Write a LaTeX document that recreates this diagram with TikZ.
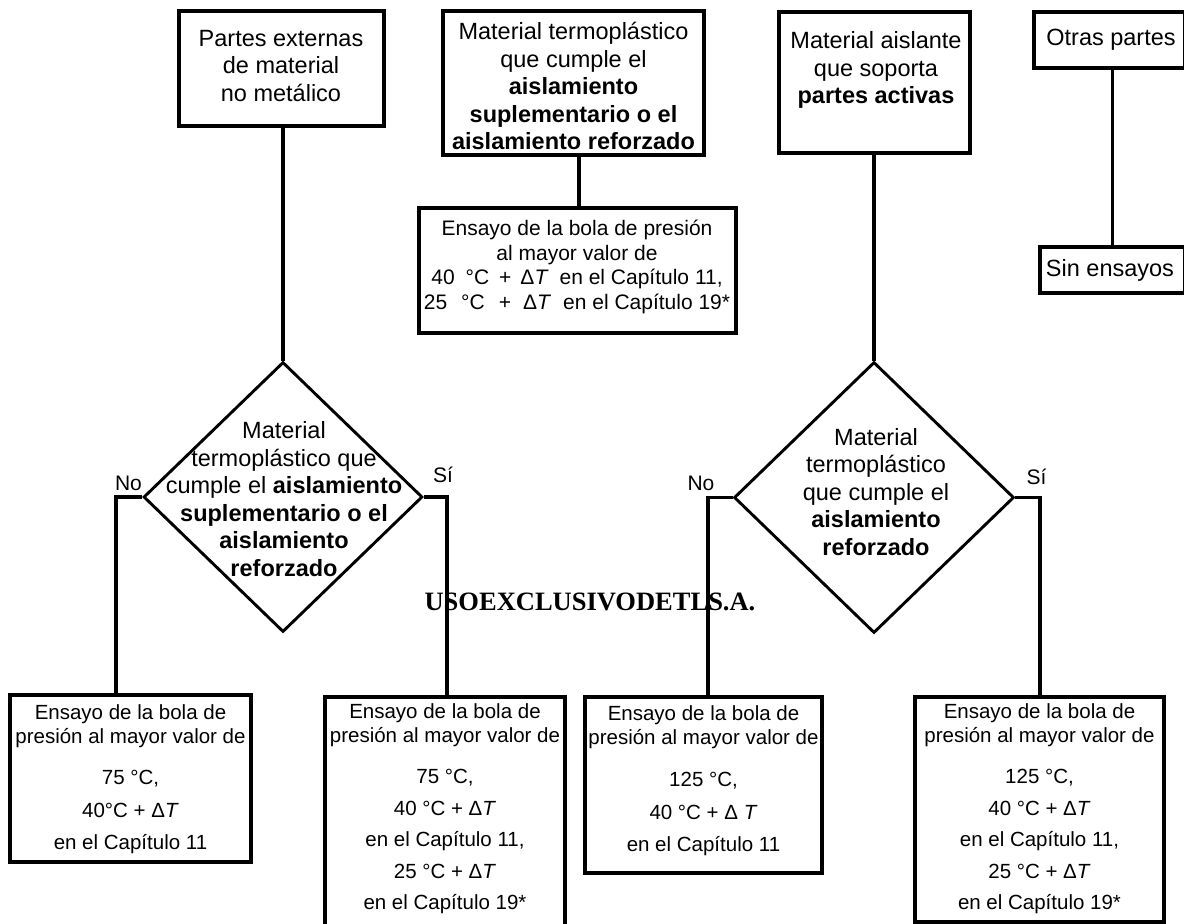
\documentclass[tikz,border=0pt]{standalone}
\usepackage{fontspec}
\setmainfont{Liberation Sans}
\newfontfamily\wmfont{Liberation Serif}
\usetikzlibrary{shapes.geometric}

\begin{document}
\begin{tikzpicture}[x=1pt,y=-1pt,
  box/.style={draw, line width=3.2pt, rectangle, inner sep=0pt},
  decision/.style={draw, line width=2.9pt, shape=diamond, inner sep=0pt},
  link/.style={line width=3.2pt},
  bigtxt/.style={align=center, inner sep=0pt, font=\fontsize{23.5}{27.5}\selectfont},
  smalltxt/.style={align=center, inner sep=0pt, font=\fontsize{20.5}{24}\selectfont},
  midtxt/.style={align=center, inner sep=0pt, font=\fontsize{21}{24.5}\selectfont},
  answer/.style={inner sep=0pt, font=\fontsize{21}{24}\selectfont},
  stamp/.style={inner sep=0pt, font=\wmfont\bfseries\fontsize{26.5}{28}\selectfont}]

\useasboundingbox (0,0) rectangle (1184,924);
\fill[white] (0,0) rectangle (1184,924);

% top row of boxes
\node[box, minimum width=205, minimum height=115] (b1) at (281.5,68.5) {};
\node[box, minimum width=261, minimum height=144] (b2) at (573.5,83) {};
\node[box, minimum width=317, minimum height=125] (b3) at (577.5,270.5) {};
\node[box, minimum width=191, minimum height=141] (b4) at (874.5,82.5) {};
\node[box, minimum width=151, minimum height=56] (b5) at (1109.5,40) {};
\node[box, minimum width=145, minimum height=46] (b6) at (1112.5,270) {};

\node[bigtxt] (b1t) at (281,66) {Partes externas\\de material\\no metálico};
\node[bigtxt] (b2t) at (573.5,86) {Material termoplástico\\que cumple el\\\textbf{aislamiento}\\\textbf{suplementario o el}\\\textbf{aislamiento reforzado}};
\node[midtxt] (b3t) at (577,267) {Ensayo de la bola de presión\\al mayor valor de\\40\hspace{11pt}°C\hspace{10pt}+\hspace{9pt}Δ\textit{T}\hspace{11pt}en el Capítulo 11,\\25\hspace{14pt}°C\hspace{14pt}+\hspace{12pt}Δ\textit{T}\hspace{12pt}en el Capítulo 19*};
\node[bigtxt] (b4t) at (876,70) {Material aislante\\que soporta\\\textbf{partes activas}};
\node[bigtxt] (b5t) at (1111,40) {Otras partes};
\node[bigtxt] (b6t) at (1110,270) {Sin ensayos};

% decisions
\node[decision, minimum width=279, minimum height=270] (d1) at (283,497) {};
\node[decision, minimum width=280, minimum height=271] (d2) at (874,497.5) {};

\node[bigtxt] (d1t) at (284,499) {Material\\termoplástico que\\cumple el \textbf{aislamiento}\\\textbf{suplementario o el}\\\textbf{aislamiento}\\\textbf{reforzado}};
\node[bigtxt] (d2t) at (876,492) {Material\\termoplástico\\que cumple el\\\textbf{aislamiento}\\\textbf{reforzado}};

% result boxes
\node[box, minimum width=241, minimum height=167] (r1) at (130.5,778.5) {};
\node[box, minimum width=240, minimum height=229] (r2) at (445,811.5) {};
\node[box, minimum width=237, minimum height=176] (r3) at (703.5,785) {};
\node[box, minimum width=249, minimum height=225] (r4) at (1039.5,809.5) {};

\node[smalltxt] (r1t) at (130.5,779.5) {Ensayo de la bola de\\presión al mayor valor de\\[17pt]75 °C,\\[8.5pt]40°C + Δ\textit{T}\\[8.5pt]en el Capítulo 11};
\node[smalltxt] (r2t) at (445,809) {Ensayo de la bola de\\presión al mayor valor de\\[17pt]75 °C,\\[7.5pt]40 °C + Δ\textit{T}\\[7.5pt]en el Capítulo 11,\\[7.5pt]25 °C + Δ\textit{T}\\[7.5pt]en el Capítulo 19*};
\node[smalltxt] (r3t) at (703.5,781) {Ensayo de la bola de\\presión al mayor valor de\\[18pt]125 °C,\\[8.5pt]40 °C + Δ \textit{T}\\[8.5pt]en el Capítulo 11};
\node[smalltxt] (r4t) at (1039.5,809) {Ensayo de la bola de\\presión al mayor valor de\\[17pt]125 °C,\\[7.5pt]40 °C + Δ\textit{T}\\[7.5pt]en el Capítulo 11,\\[7.5pt]25 °C + Δ\textit{T}\\[7.5pt]en el Capítulo 19*};

% stamp text across the lower part
\node[stamp] (wm) at (590,602) {USOEXCLUSIVODETLS.A.};

% branch labels
\node[answer] (n1) at (128.5,483) {No};
\node[answer] (s1) at (443,475) {Sí};
\node[answer] (n2) at (701,483) {No};
\node[answer] (s2) at (1036.5,477) {Sí};

% connectors
\coordinate (c2) at (579,0);
\coordinate (k1) at (116,0);
\coordinate (k2) at (447,0);
\coordinate (k3) at (708,0);
\coordinate (k4) at (1040,0);

\draw[link] (d1.north |- b1.south) -- (d1.north);
\draw[link] (b2.south -| c2) -- (b3.north -| c2);
\draw[link] (d2.north |- b4.south) -- (d2.north);
\draw[link] (b6.north |- b5.south) -- (b6.north);

\draw[link] (d1.west) -- (d1.west -| k1) -- (r1.north -| k1);
\draw[link] (d1.east) -- (d1.east -| k2) -- (r2.north -| k2);
\draw[link] (d2.west) -- (d2.west -| k3) -- (r3.north -| k3);
\draw[link] (d2.east) -- (d2.east -| k4) -- (r4.north -| k4);
\end{tikzpicture}
\end{document}
